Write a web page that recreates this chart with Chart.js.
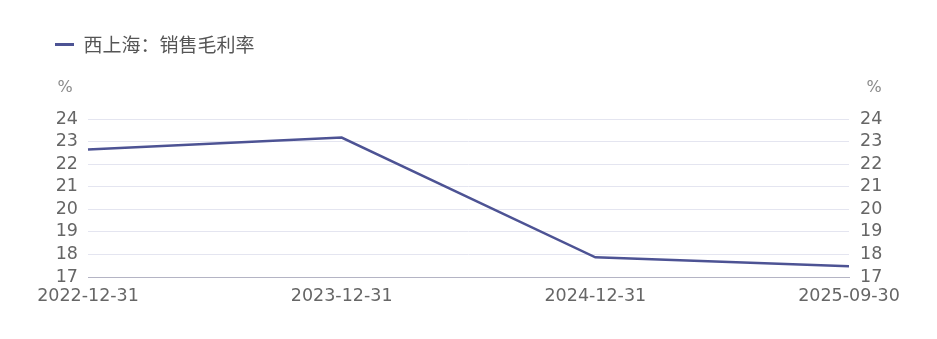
<!DOCTYPE html>
<html>
<head>
<meta charset="utf-8">
<script src="https://cdn.jsdelivr.net/npm/chart.js@4"></script>
<style>
html,body{margin:0;padding:0;background:#fff}
#wrap{width:937px;height:339px}
</style>
</head>
<body>
<div id="wrap"><canvas id="grafico" width="937" height="339"></canvas></div>
<script>
let categorias=['2022-12-31','2023-12-31','2024-12-31','2025-09-30']
let margemBruta=[22.65,23.18,17.87,17.48]
let nomeSerie='西上海：销售毛利率'
let escalaMin=17
let escalaMax=24

let fonteCjk='"Noto Sans CJK SC","Noto Sans",sans-serif'
let fonteNum='"DejaVu Sans",sans-serif'
let corLinha='#4d5394'

// legenda com altura fixa para o topo da area do grafico
let ajusteLegenda={
id:'ajusteLegenda',
beforeInit(chart){
let fitOrig=chart.legend.fit
chart.legend.fit=function(){
fitOrig.bind(chart.legend)()
this.height=94
}
}
}

// unidade % em cima dos eixos
let unidadeEixos={
id:'unidadeEixos',
afterDraw(chart){
let ctx=chart.ctx
ctx.save()
ctx.font='16px '+fonteNum
ctx.fillStyle='#8a8a8a'
ctx.textBaseline='middle'
ctx.textAlign='center'
ctx.fillText('%',65,88)
ctx.fillText('%',874,88)
ctx.restore()
}
}

new Chart(document.getElementById('grafico'),{
type:'line',
data:{
labels:categorias,
datasets:[{
label:nomeSerie,
data:margemBruta,
borderColor:corLinha,
backgroundColor:corLinha,
borderWidth:2.5,
pointRadius:0,
tension:0,
yAxisID:'y'
}]
},
options:{
responsive:false,
animation:false,
layout:{
padding:{top:25,left:45,right:47,bottom:0}
},
plugins:{
legend:{
align:'start',
labels:{
boxWidth:19,
boxHeight:3,
padding:10,
color:'#555',
font:{family:fonteCjk,size:19},
generateLabels(chart){
let itens=Chart.defaults.plugins.legend.labels.generateLabels(chart)
itens.forEach(i=>{i.lineWidth=0;i.fillStyle=corLinha})
return itens
}
}
},
tooltip:{enabled:false}
},
scales:{
x:{
offset:false,
grid:{display:false,drawTicks:false},
border:{display:true,color:'#b4b4c4',width:1},
ticks:{
color:'#666',
padding:9,
maxRotation:0,
autoSkip:false,
font:{family:fonteNum,size:17.5}
},
afterFit(s){s.height=62}
},
y:{
position:'left',
min:escalaMin,
max:escalaMax,
grid:{color:'#e4e5f0',drawTicks:false},
border:{display:false},
ticks:{
stepSize:1,
autoSkip:false,
color:'#666',
padding:10,
font:{family:fonteNum,size:17.5}
},
afterFit(s){s.width=43}
},
y1:{
position:'right',
min:escalaMin,
max:escalaMax,
grid:{display:false,drawTicks:false},
border:{display:false},
ticks:{
stepSize:1,
autoSkip:false,
color:'#666',
padding:11,
font:{family:fonteNum,size:17.5}
},
afterFit(s){s.width=41}
}
}
},
plugins:[ajusteLegenda,unidadeEixos]
})
</script>
</body>
</html>
